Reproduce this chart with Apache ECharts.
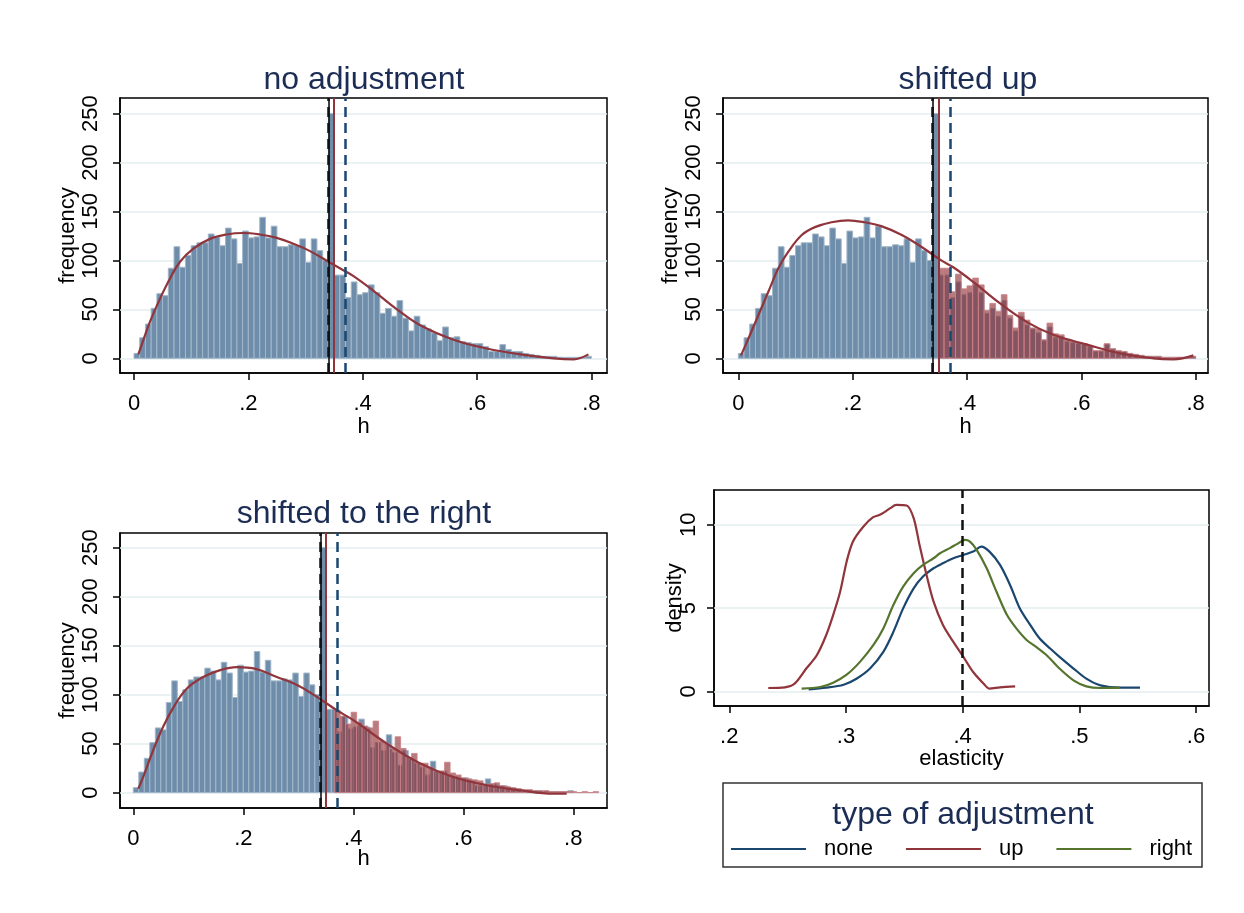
<!DOCTYPE html>
<html>
<head>
<meta charset="utf-8">
<title>type of adjustment</title>
<script src="https://cdn.jsdelivr.net/npm/echarts@6/dist/echarts.min.js"></script>
<style>html,body{margin:0;padding:0;background:#fff;}</style>
</head>
<body>
<div id="main" style="width:1244px;height:913px;"></div>
<script type="text/javascript">
// histogram of h, bins of 0.01 starting at 0
var binStart = 0, binWidth = 0.01;
var hCounts = [5,21,35,51,66,64,92,114,93,105,115,118,118,127,124,115,133,122,97,130,
  123,124,144,123,135,114,114,116,115,122,98,122,110,100,250,85,85,62,78,65,
  67,75,67,46,51,43,59,41,28,43,34,30,26,18,32,21,22,17,16,15,
  15,12,7,7,14,9,7,7,5,4,3,2,2,2,1,1,1,1,1,2];

// shifted up: bins from 0.35
var upStart = 0.35;
var upCounts = [92,92,68,86,71,74,82,75,49,56,48,65,44,31,47,39,31,30,19,36,
  25,24,19,17,16,15,13,8,8,15,10,8,7,5,4,3,2,2,2,1,1,1,1,1,2];

// shifted to the right: bins from 0.366
var rightStart = 0.366;
var rightCounts = [84,78,70,82,72,68,66,73,53,50,45,57,45,36,40,30,30,26,22,22,
  31,20,18,15,14,13,12,8,9,10,7,6,5,4,3,3,2,2,2,1,1,1,1,1,0,1,0,1];

// fitted curves
var fitNoneX = [0.0076,0.0163,0.028,0.0455,0.063,0.0805,0.1038,0.133,0.162,0.191,0.22,0.2496,0.2787,0.3079,0.3371,0.3662,0.384,0.419,0.46,0.5,0.559,0.617,0.676,0.734,0.769,0.795];
var fitNoneY = [4,18.7,37.4,61,81.6,98.6,112,122,126.5,128,126.5,123,117,109.5,99.7,90,84,69,50,34,19,10,4,0,-1,4];
var fitUpX = [0.0047,0.0175,0.035,0.0525,0.07,0.0875,0.111,0.134,0.163,0.192,0.221,0.25,0.286,0.32,0.355,0.376,0.411,0.458,0.505,0.551,0.61,0.668,0.726,0.761,0.796];
var fitUpY = [3,20,44,68,92,109,126,134,139,141,139,135,126,114,100,93,78,56,37,24,14,5,0,-1,3];
var fitRightX = [0.0091,0.018,0.036,0.054,0.073,0.097,0.127,0.158,0.188,0.224,0.261,0.297,0.333,0.37,0.4,0.461,0.521,0.582,0.643,0.703,0.764,0.788];
var fitRightY = [4,16,43,67,87,106,118,125,128,126,118,110,98,84,74,50,30,16,7.5,2.4,-1,-1];

// reference lines
var lineBlackSolid = 0.339, lineBlackDash = 0.341, lineRed = 0.352, lineBlue = 0.368;

// densities of elasticity
var densNoneX = [0.268,0.283,0.298,0.309,0.3206,0.332,0.3406,0.349,0.358,0.366,0.375,0.383,0.392,0.4006,0.409,0.416,0.423,0.432,0.4406,0.449,0.458,0.466,0.475,0.483,0.495,0.506,0.518,0.535,0.552];
var densNoneY = [0.12,0.22,0.4,0.76,1.37,2.37,3.57,4.98,6.18,6.89,7.39,7.69,7.99,8.19,8.39,8.69,8.39,7.59,6.39,4.98,3.98,3.17,2.57,2.07,1.37,0.76,0.36,0.22,0.22];
var densUpX = [0.2334,0.2477,0.256,0.266,0.275,0.283,0.289,0.295,0.3006,0.306,0.315,0.323,0.329,0.333,0.338,0.343,0.352,0.358,0.363,0.369,0.375,0.383,0.392,0.4006,0.409,0.418,0.423,0.432,0.445];
var densUpY = [0.2,0.24,0.46,1.37,2.17,3.37,4.58,5.98,7.8,9.0,9.9,10.44,10.6,10.76,11.0,11.2,11.16,10.4,8.8,7.0,5.4,4.0,2.97,2.07,1.16,0.46,0.16,0.24,0.3];
var densRightX = [0.262,0.278,0.289,0.3006,0.312,0.3234,0.332,0.3406,0.349,0.358,0.366,0.375,0.3806,0.389,0.395,0.402,0.406,0.412,0.4206,0.429,0.438,0.446,0.455,0.463,0.472,0.483,0.495,0.506,0.518,0.535];
var densRightY = [0.16,0.26,0.52,1.0,1.77,2.77,3.78,5.18,6.29,7.09,7.59,7.99,8.29,8.6,8.84,9.1,9.0,8.5,7.39,5.98,4.58,3.78,3.07,2.67,2.17,1.37,0.66,0.3,0.2,0.22];
var trueElasticity = 0.4;

var histTicks = [0, 50, 100, 150, 200, 250];
var hTicks = [0, 0.2, 0.4, 0.6, 0.8];
var densTicks = [0, 5, 10];
var elasTicks = [0.2, 0.3, 0.4, 0.5, 0.6];

var FONT = 'Liberation Sans, Arial, sans-serif';
var NAVY = '#1a476f', MAROON = '#90353b', GREEN = '#55752f';

var myChart = echarts.init(document.getElementById('main'));

function pairs(xs, ys) {
  return xs.map(function (x, i) { return [x, ys[i]]; });
}
function fmtDec(v) {
  if (v === 0) return '0';
  return String(+v.toFixed(1)).replace('0.', '.');
}

function histSeries(idx, start, counts, fill, stroke, name) {
  var data = counts.map(function (c, i) {
    return [start + i * binWidth, start + (i + 1) * binWidth, c];
  });
  return {
    name: name,
    type: 'custom',
    xAxisIndex: idx, yAxisIndex: idx,
    z: 3,
    silent: true,
    encode: { x: [0, 1], y: 2 },
    data: data,
    renderItem: function (params, api) {
      var p0 = api.coord([api.value(0), api.value(2)]);
      var p1 = api.coord([api.value(1), 0]);
      return {
        type: 'rect',
        shape: { x: p0[0], y: p0[1], width: p1[0] - p0[0], height: p1[1] - p0[1] },
        style: { fill: fill, stroke: stroke, lineWidth: 1 }
      };
    }
  };
}

// light horizontal grid lines, kept under the bars
function gridLines(idx, ticks, name) {
  return {
    name: name, type: 'line', xAxisIndex: idx, yAxisIndex: idx, z: 1,
    data: [], silent: true,
    markLine: {
      z: 1,
      silent: true, symbol: 'none', label: { show: false },
      lineStyle: { color: '#e4eef1', width: 1.5, type: 'solid' },
      data: ticks.map(function (t) { return { yAxis: t }; })
    }
  };
}

function fitSeries(idx, xs, ys, name) {
  return {
    name: name, type: 'line', xAxisIndex: idx, yAxisIndex: idx, z: 4,
    data: pairs(xs, ys), smooth: 0.4, showSymbol: false, silent: true,
    lineStyle: { color: MAROON, width: 2.2 },
    markLine: {
      z: 6,
      silent: true, symbol: 'none', label: { show: false },
      data: [
        { xAxis: lineBlackSolid, lineStyle: { color: '#000', width: 1.5, type: 'solid' } },
        { xAxis: lineBlackDash, lineStyle: { color: '#111', width: 2.5, type: [10, 6] } },
        { xAxis: lineRed, lineStyle: { color: MAROON, width: 2, type: 'solid' } },
        { xAxis: lineBlue, lineStyle: { color: NAVY, width: 2.5, type: [10, 6] } }
      ]
    }
  };
}

function xAx(idx, min, max, ticks, name, gap) {
  return {
    type: 'value', gridIndex: idx, min: min, max: max,
    name: name, nameLocation: 'middle', nameGap: gap, nameMoveOverlap: false,
    nameTextStyle: { fontFamily: FONT, fontSize: 22, color: '#000' },
    axisLine: { show: true, onZero: false, lineStyle: { color: '#000', width: 1.5 } },
    axisTick: { show: true, length: 7, customValues: ticks, lineStyle: { color: '#000', width: 1.5 } },
    axisLabel: { customValues: ticks, formatter: fmtDec, margin: 20,
      fontFamily: FONT, fontSize: 22, color: '#000' },
    splitLine: { show: false }
  };
}
function yAx(idx, min, max, ticks, name, gap, margin) {
  return {
    type: 'value', gridIndex: idx, min: min, max: max,
    name: name, nameLocation: 'middle', nameGap: gap, nameMoveOverlap: false,
    nameTextStyle: { fontFamily: FONT, fontSize: 22, color: '#000' },
    axisLine: { show: true, onZero: false, lineStyle: { color: '#000', width: 1.5 } },
    axisTick: { show: true, length: 7, customValues: ticks, lineStyle: { color: '#000', width: 1.5 } },
    axisLabel: { customValues: ticks, rotate: 90, margin: margin,
      fontFamily: FONT, fontSize: 22, color: '#000' },
    splitLine: { show: false }
  };
}

var gridStyle = { show: true, borderColor: '#000', borderWidth: 1.5, backgroundColor: '#fff' };
function titleAt(text, cx, top) {
  return { text: text, left: cx, top: top, textAlign: 'center',
    textStyle: { fontFamily: FONT, fontSize: 32, fontWeight: 'normal', color: '#1c2d55' } };
}

var BLUE_FILL = '#6e8dab', BLUE_EDGE = '#a3b7c9';
var RED_FILL = 'rgba(144,53,59,0.65)', RED_EDGE = 'rgba(205,130,135,0.85)';

var option = {
  animation: false,
  backgroundColor: '#fff',
  title: [
    titleAt('no adjustment', 359, 59),
    titleAt('shifted up', 963, 59),
    titleAt('shifted to the right', 359, 493),
    titleAt('type of adjustment', 958, 794)
  ],
  grid: [
    Object.assign({ left: 120, top: 98, width: 487, height: 275 }, gridStyle),
    Object.assign({ left: 723, top: 98, width: 485, height: 275 }, gridStyle),
    Object.assign({ left: 120, top: 533, width: 487, height: 275 }, gridStyle),
    Object.assign({ left: 714, top: 490, width: 495, height: 216 }, gridStyle)
  ],
  xAxis: [
    xAx(0, -0.0245, 0.8274, hTicks, 'h', 43),
    xAx(1, -0.0268, 0.8216, hTicks, 'h', 43),
    xAx(2, -0.0242, 0.8613, hTicks, 'h', 40),
    xAx(3, 0.1869, 0.6111, elasTicks, 'elasticity', 42)
  ],
  yAxis: [
    yAx(0, -15, 265.9, histTicks, 'frequency', 41, 18),
    yAx(1, -15, 265.9, histTicks, 'frequency', 41, 18),
    yAx(2, -15.7, 264.9, histTicks, 'frequency', 41, 18),
    yAx(3, -0.88, 12.09, densTicks, 'density', 28, 14)
  ],
  legend: {
    data: ['none', 'up', 'right'],
    left: 726, top: 833,
    icon: 'rect',
    itemWidth: 75, itemHeight: 2, itemGap: 33,
    textStyle: { fontFamily: FONT, fontSize: 22, color: '#000', padding: [0, 0, 0, 13] }
  },
  graphic: [{
    type: 'rect', silent: true, z: 0,
    shape: { x: 723, y: 783, width: 479, height: 84 },
    style: { fill: '#fff', stroke: '#333', lineWidth: 1.5 }
  }],
  series: [
    gridLines(0, histTicks, 'g0'),
    gridLines(1, histTicks, 'g1'),
    gridLines(2, histTicks, 'g2'),
    gridLines(3, densTicks, 'g3'),
    histSeries(0, binStart, hCounts, BLUE_FILL, BLUE_EDGE, 'h0'),
    histSeries(1, binStart, hCounts, BLUE_FILL, BLUE_EDGE, 'h1'),
    histSeries(1, upStart, upCounts, RED_FILL, RED_EDGE, 'h1up'),
    histSeries(2, binStart, hCounts, BLUE_FILL, BLUE_EDGE, 'h2'),
    histSeries(2, rightStart, rightCounts, RED_FILL, RED_EDGE, 'h2right'),
    fitSeries(0, fitNoneX, fitNoneY, 'fit0'),
    fitSeries(1, fitUpX, fitUpY, 'fit1'),
    fitSeries(2, fitRightX, fitRightY, 'fit2'),
    {
      name: 'none', type: 'line', xAxisIndex: 3, yAxisIndex: 3, z: 4,
      data: pairs(densNoneX, densNoneY), smooth: 0.3, showSymbol: false, symbol: 'none',
      itemStyle: { color: NAVY }, lineStyle: { color: NAVY, width: 2.2 },
      markLine: {
        z: 6,
        silent: true, symbol: 'none', label: { show: false },
        lineStyle: { color: '#111', width: 2.5, type: [10, 6] },
        data: [{ xAxis: trueElasticity }]
      }
    },
    {
      name: 'up', type: 'line', xAxisIndex: 3, yAxisIndex: 3, z: 4,
      data: pairs(densUpX, densUpY), smooth: 0.3, showSymbol: false, symbol: 'none',
      itemStyle: { color: MAROON }, lineStyle: { color: MAROON, width: 2.2 }
    },
    {
      name: 'right', type: 'line', xAxisIndex: 3, yAxisIndex: 3, z: 4,
      data: pairs(densRightX, densRightY), smooth: 0.3, showSymbol: false, symbol: 'none',
      itemStyle: { color: GREEN }, lineStyle: { color: GREEN, width: 2.2 }
    }
  ]
};

myChart.setOption(option);
</script>
</body>
</html>
